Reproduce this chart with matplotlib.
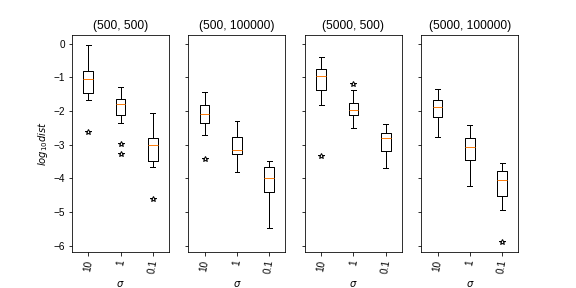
import matplotlib
matplotlib.use("Agg")
import matplotlib.pyplot as plt

plt.rcParams['font.family'] = ['Liberation Sans', 'DejaVu Sans']

titles = ['(500, 500)', '(500, 100000)', '(5000, 500)', '(5000, 100000)']
sigmas = ['10', '1', '0.1']

# per panel, per sigma: (low whisker, q1, median, q3, high whisker)
whislo = [[-1.69, -2.35, -3.68], [-2.73, -3.83, -5.47], [-1.84, -2.52, -3.71], [-2.79, -4.24, -4.93]]
q1 = [[-1.46, -2.11, -3.48], [-2.35, -3.27, -4.41], [-1.37, -2.11, -3.18], [-2.17, -3.45, -4.54]]
med = [[-1.04, -1.81, -3.00], [-2.09, -3.15, -3.98], [-0.95, -1.96, -2.81], [-1.87, -3.08, -4.04]]
q3 = [[-0.81, -1.64, -2.82], [-1.82, -2.79, -3.68], [-0.77, -1.78, -2.67], [-1.69, -2.81, -3.80]]
whishi = [[-0.03, -1.29, -2.06], [-1.43, -2.29, -3.50], [-0.40, -1.37, -2.38], [-1.34, -2.41, -3.56]]
fliers = [[[-2.63], [-2.99, -3.29], [-4.63]],
          [[-3.44], [], []],
          [[-3.35], [-1.21], []],
          [[], [], [-5.90]]]

fig, axs = plt.subplots(1, 4, figsize=(8, 4), dpi=72, sharey=True)
fig.subplots_adjust(left=0.125, right=0.9, top=0.878, bottom=0.124, wspace=0.2)

for i, ax in enumerate(axs):
    stats = []
    for j in range(3):
        stats.append({'whislo': whislo[i][j], 'q1': q1[i][j], 'med': med[i][j],
                      'q3': q3[i][j], 'whishi': whishi[i][j], 'fliers': fliers[i][j],
                      'label': sigmas[j]})
    ax.bxp(stats, flierprops=dict(marker='*', markerfacecolor='none',
                                  markeredgecolor='black', markersize=6))
    ax.set_title(titles[i])
    ax.set_xlabel(r'$\sigma$')
    ax.tick_params(axis='x', labelrotation=80)

axs[0].set_ylim(-6.2, 0.25)
axs[0].set_ylabel('$log_{10} dist$')

plt.savefig('out.png')
